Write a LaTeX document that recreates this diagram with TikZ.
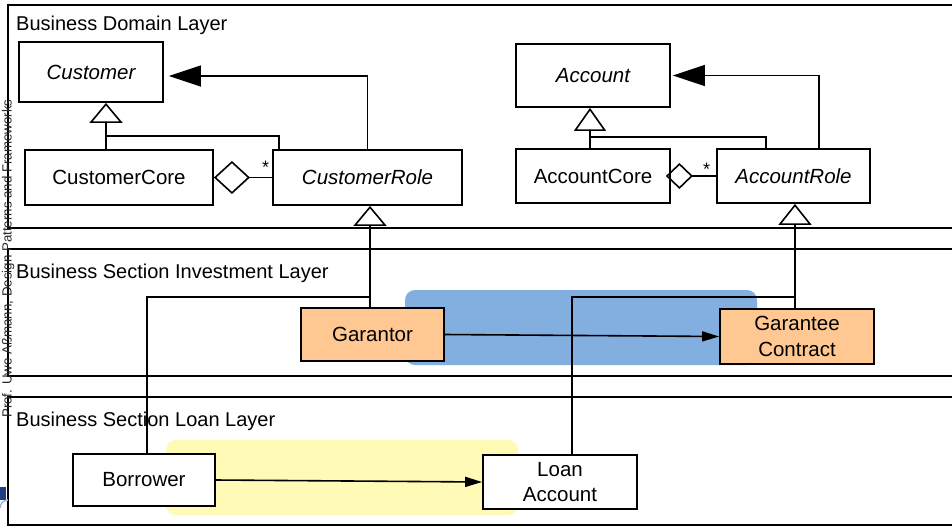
\documentclass[tikz,border=0pt]{standalone}
\usepackage{fontspec}
\setmainfont{Liberation Sans}
\usetikzlibrary{arrows.meta}
\definecolor{bgblue}{RGB}{130,174,224}
\definecolor{bgyellow}{RGB}{255,250,182}
\definecolor{clsorange}{RGB}{255,200,146}
\definecolor{logoblue}{RGB}{30,60,130}
\definecolor{logolight}{RGB}{160,185,220}
\begin{document}
\begin{tikzpicture}[x=1pt,y=-1pt,
  layerbox/.style={draw, line width=1.5pt, fill=white},
  layerlabel/.style={anchor=base west, inner sep=0pt, font=\fontsize{20}{24}\selectfont},
  cls/.style={draw, line width=1.8pt, inner sep=0pt, fill=white, align=center,
              font=\fontsize{20.5}{25.6}\selectfont},
  abstractcls/.style={cls, font=\fontsize{20.5}{25.6}\selectfont\itshape},
  rolecls/.style={cls, fill=clsorange},
  conn/.style={line width=1.6pt},
  navarrow/.style={conn, -{Triangle[length=32pt,width=21pt]}},
  smallarrow/.style={conn, -{Triangle[length=17pt,width=10pt]}},
  genarrow/.style={conn, -{Triangle[open,length=20pt,width=33pt]}},
  aggbig/.style={conn, -{Diamond[open,length=36pt,width=33pt]}},
  aggsmall/.style={conn, -{Diamond[open,length=27pt,width=26pt]}},
  mult/.style={anchor=base, inner sep=0pt, font=\fontsize{18}{18}\selectfont}
]
\useasboundingbox (0,0) rectangle (952,528);

% layers
\draw[layerbox] (8,5) rectangle (958,228);
\draw[layerbox] (8,249) rectangle (958,376);
\draw[layerbox] (8,397) rectangle (958,525);

% vertical footer text and logo fragment
\node[anchor=base west, rotate=90, inner sep=0pt, text=black!85,
      font=\fontsize{13.3}{14}\selectfont] (footer) at (11.5,418) {Prof. Uwe Aßmann, Design Patterns and Frameworks};
\fill[logoblue] (0,487) rectangle (6,500);
\draw[logolight, line width=1.5pt] (0,508) arc[start angle=180, end angle=270, radius=8];

% layer labels
\node[layerlabel] (lbldomain) at (16,30) {Business Domain Layer};
\node[layerlabel] (lblinvest) at (16,278) {Business Section Investment Layer};
\node[layerlabel] (lblloan) at (16,426) {Business Section Loan Layer};

% highlight backgrounds
\fill[bgblue, rounded corners=10pt] (405,290) rectangle (757,365);
\fill[bgyellow, rounded corners=10pt] (166,440) rectangle (518,515);

% classes
\node[abstractcls, minimum width=144pt, minimum height=60pt] (customer) at (91,72) {Customer};
\node[cls, minimum width=188pt, minimum height=55pt] (custcore) at (119,177.5) {CustomerCore};
\node[abstractcls, minimum width=189pt, minimum height=55pt] (custrole) at (367.5,177.5) {CustomerRole};
\node[abstractcls, minimum width=154pt, minimum height=63pt] (account) at (593,75.5) {Account};
\node[cls, minimum width=154pt, minimum height=54pt] (acctcore) at (593,176) {AccountCore};
\node[abstractcls, minimum width=153pt, minimum height=54pt] (acctrole) at (793.5,176) {AccountRole};
\node[rolecls, minimum width=143pt, minimum height=53pt] (garantor) at (372.5,334.5) {Garantor};
\node[rolecls, minimum width=154pt, minimum height=55pt] (garantee) at (797,336.5) {Garantee\\Contract};
\node[cls, minimum width=142pt, minimum height=52pt] (borrower) at (144,480) {Borrower};
\node[cls, minimum width=154pt, minimum height=54pt] (loan) at (560,482) {Loan\\Account};

% junction points
\coordinate (gc1) at (106,136);
\coordinate (gc2) at (279,136);
\coordinate (ga1) at (590,137);
\coordinate (ga2) at (766,137);
\coordinate (gx1) at (370,297);
\coordinate (gx2) at (795,297);

% Business domain: customer side
\draw[genarrow] (custcore.north -| gc1) -- (customer.south -| gc1);
\draw[conn] (custrole.north -| gc2) |- (gc1);
\draw[aggbig] (custrole.west) -- (custcore.east);
\node[mult] (multc) at (265.5,173) {*};
\draw[navarrow, shorten >=5pt] (custrole.north) |- ([yshift=-4pt]customer.east);

% Business domain: account side
\draw[conn, -{Triangle[open,length=23pt,width=32pt]}] (acctcore.north -| ga1) -- (account.south -| ga1);
\draw[conn] (acctrole.north -| ga2) |- (ga1);
\draw[aggsmall] (acctrole.west) -- ([xshift=-5pt]acctcore.east);
\node[mult] (multa) at (706.5,175) {*};
\draw[navarrow, shorten >=2pt] ([xshift=25.5pt]acctrole.north) |- (account.east);

% roles to domain
\draw[genarrow] (garantor.north -| gx1) -- (custrole.south -| gx1);
\draw[conn] ([xshift=3pt]borrower.north) |- (gx1);
\draw[conn, -{Triangle[open,length=21pt,width=33pt]}] (garantee.north -| gx2) -- (acctrole.south -| gx2);
\draw[conn] ([xshift=12pt]loan.north) |- (gx2);

% associations inside sections
\draw[smallarrow] (garantor.east) -- (garantee.west);
\draw[smallarrow] (borrower.east) -- (loan.west);
\end{tikzpicture}
\end{document}
